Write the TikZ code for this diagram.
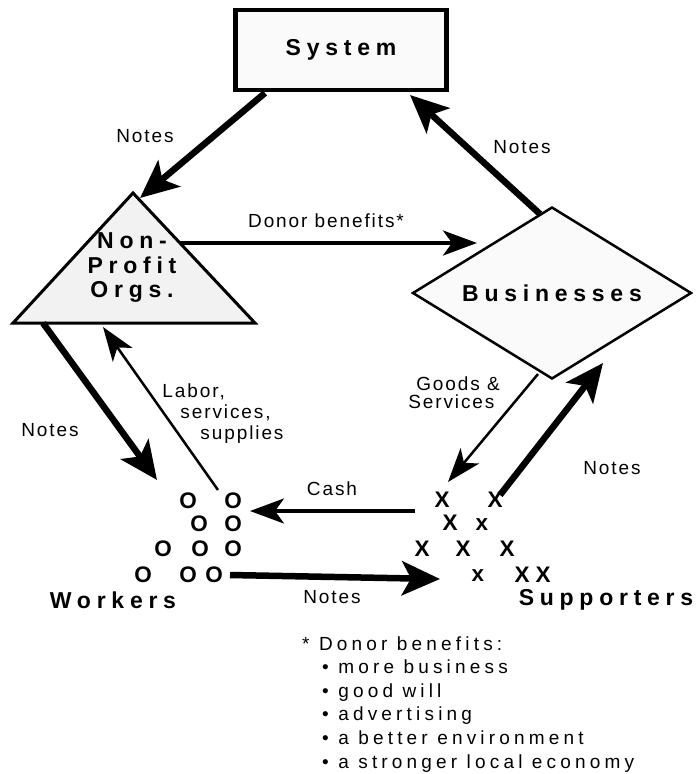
\documentclass[tikz,border=0pt]{standalone}
\usepackage{fontspec}
\setmainfont{Liberation Sans}
\newfontfamily\titlefont[LetterSpace=25]{Liberation Sans}
\newfontfamily\labelfont[LetterSpace=10]{Liberation Sans}
\newfontfamily\notefont[LetterSpace=22]{Liberation Sans}
\usetikzlibrary{arrows.meta,shapes.geometric}

\begin{document}
\begin{tikzpicture}[x=1pt,y=-1pt,
  bigarrow/.style={line width=6.5pt,-{Stealth[length=38pt,width=34pt,inset=9pt]}},
  midarrow/.style={line width=3.5pt,-{Stealth[length=34pt,width=25pt,inset=9pt]}},
  thinarrow/.style={line width=2.5pt,-{Stealth[length=34pt,width=24pt,inset=9pt]}},
  lbl/.style={font=\labelfont\fontsize{19}{21}\selectfont,inner sep=0pt},
  fnote/.style={font=\notefont\fontsize{19}{22}\selectfont,inner sep=0pt,anchor=base west},
  title/.style={font=\titlefont\bfseries\fontsize{23}{24.5}\selectfont,inner sep=0pt},
  tally/.style={font=\bfseries\fontsize{22.5}{22.5}\selectfont,inner sep=0pt}]
\useasboundingbox (0,0) rectangle (696,774);

% the three parties
\node[draw,line width=4.5pt,fill=black!2,minimum width=211pt,minimum height=80pt,title] (sys) at (341,50) {System};
\draw[line width=3pt,fill=black!5] (133,193) coordinate (npoTop) -- (255,323) coordinate (npoR)
  -- (13,323) coordinate (npoL) -- cycle;
\node[title,align=center] (npo) at (132,268) {Non-\\Profit\\Orgs.};
\node[draw,diamond,aspect=1.62,line width=2.5pt,fill=black!2,minimum width=279pt,minimum height=172pt,title] (bus) at (552,293) {Businesses};

% workers and supporters
\foreach \x/\y [count=\i] in {188/501,233/501,199/524,233/524,163/549,200/549,233/549,143/575,188/575,214/575}
  \node[tally] (w\i) at (\x,\y) {O};
\foreach \x/\y/\t [count=\i] in {442/500/X,495/500/X,450/523/X,482/525/x,422/549/X,463/549/X,507/549/X,478/576/x,522/575/X,543/575/X}
  \node[tally] (s\i) at (\x,\y) {\t};
\node[title] (wrk) at (113,600) {Workers};
\node[title] (sup) at (606,600) {Supporters};

% connector ends
\coordinate (sysOut) at (265,93);
\coordinate (npoIn) at (140,198);
\coordinate (busOut) at (540,214);
\coordinate (sysIn) at (410,95);
\coordinate (npoOut) at (180,243);
\coordinate (busIn) at (477,243);
\coordinate (npoBase) at (43,323);
\coordinate (wrkIn) at (157,480);
\coordinate (wrkOut) at (218,490);
\coordinate (npoIn2) at (103,327);
\coordinate (busOut2) at (538,374);
\coordinate (supIn) at (448,482);
\coordinate (supOut) at (500,495);
\coordinate (busIn2) at (603,363);
\coordinate (cashOut) at (415,511);
\coordinate (cashIn) at (250,511);
\coordinate (notesOut) at (230,575);
\coordinate (notesIn) at (440,579);

\draw[bigarrow] (sysOut) -- (npoIn);
\draw[bigarrow] (busOut) -- (sysIn);
\draw[midarrow] (npoOut) -- (busIn);
\draw[bigarrow] (npoBase) -- (wrkIn);
\draw[thinarrow] (wrkOut) -- (npoIn2);
\draw[thinarrow] (busOut2) -- (supIn);
\draw[bigarrow] (supOut) -- (busIn2);
\draw[midarrow] (cashOut) -- (cashIn);
\draw[bigarrow] (notesOut) -- (notesIn);

% labels
\node[lbl] (n1) at (145,136) {Notes};
\node[lbl] (n2) at (522,147) {Notes};
\node[lbl] (don) at (326,221) {Donor benefits*};
\node[lbl] (n3) at (50,430) {Notes};
\node[lbl,align=left] (lab) at (223,414) {Labor,\\\hspace*{18pt}services,\\\hspace*{38pt}supplies};
\node[lbl,align=left,font=\labelfont\fontsize{19}{18}\selectfont] (gds) at (454,393) {\hspace*{8pt}Goods \&\\Services};
\node[lbl] (cash) at (332,489) {Cash};
\node[lbl] (n4) at (612,468) {Notes};
\node[lbl] (n5) at (332,597) {Notes};

% footnote
\node[fnote] (fn0) at (302,650) {* Donor benefits:};
\foreach \t [count=\i] in {more business,good will,advertising,a better environment,a stronger local economy}
  \node[fnote] (fn\i) at (322,650+23.6*\i) {\textbullet\ \t};
\end{tikzpicture}
\end{document}
